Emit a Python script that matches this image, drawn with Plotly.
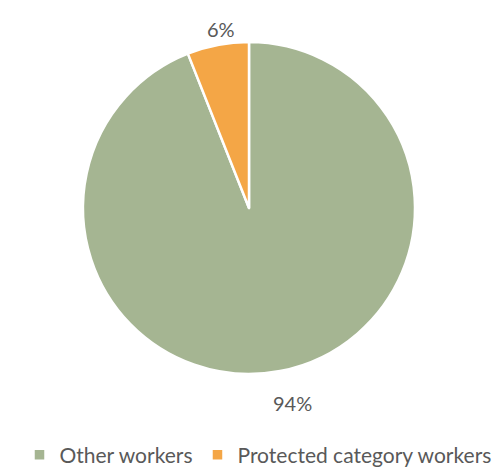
import math

import plotly.graph_objects as go

labels = ["Other workers", "Protected category workers"]
values = [94, 6]
colors = ["#A5B592", "#F4A646"]

W, H = 500, 470
# pie placement in pixels (centre and radius)
CX, CY, R = 249, 208, 166
LABEL_R = R + 24

fig = go.Figure(
    go.Pie(
        labels=labels,
        values=values,
        sort=False,
        direction="clockwise",
        rotation=0,
        marker=dict(colors=colors, line=dict(color="white", width=2.5)),
        textinfo="none",
        domain=dict(x=[(CX - R - 8) / W, (CX + R - 8) / W],
                    y=[1 - (CY + R - 8) / H, 1 - (CY - R - 8) / H]),
        hoverinfo="label+percent",
    )
)

# percentage labels outside each slice, at the slice's mid-angle
total = sum(values)
start = 0.0
for v in values:
    mid = start + v / total * 360 / 2
    start += v / total * 360
    a = math.radians(mid)
    x = CX + LABEL_R * math.sin(a)
    y = CY - LABEL_R * math.cos(a)
    fig.add_annotation(
        x=x / W, y=1 - y / H, xref="paper", yref="paper",
        text=f"{round(v / total * 100)}%", showarrow=False,
        font=dict(size=20, color="#595959"),
        xanchor="center", yanchor="middle",
    )

fig.update_layout(
    width=W,
    height=H,
    margin=dict(l=0, r=0, t=0, b=0),
    paper_bgcolor="white",
    font=dict(family="Lato, Open Sans, sans-serif", color="#595959", size=20),
    showlegend=True,
    legend=dict(
        orientation="h",
        x=0.5,
        xanchor="center",
        y=0.005,
        yanchor="bottom",
        font=dict(size=21, color="#595959"),
        itemwidth=30,
    ),
)

fig.write_html("out.html")
